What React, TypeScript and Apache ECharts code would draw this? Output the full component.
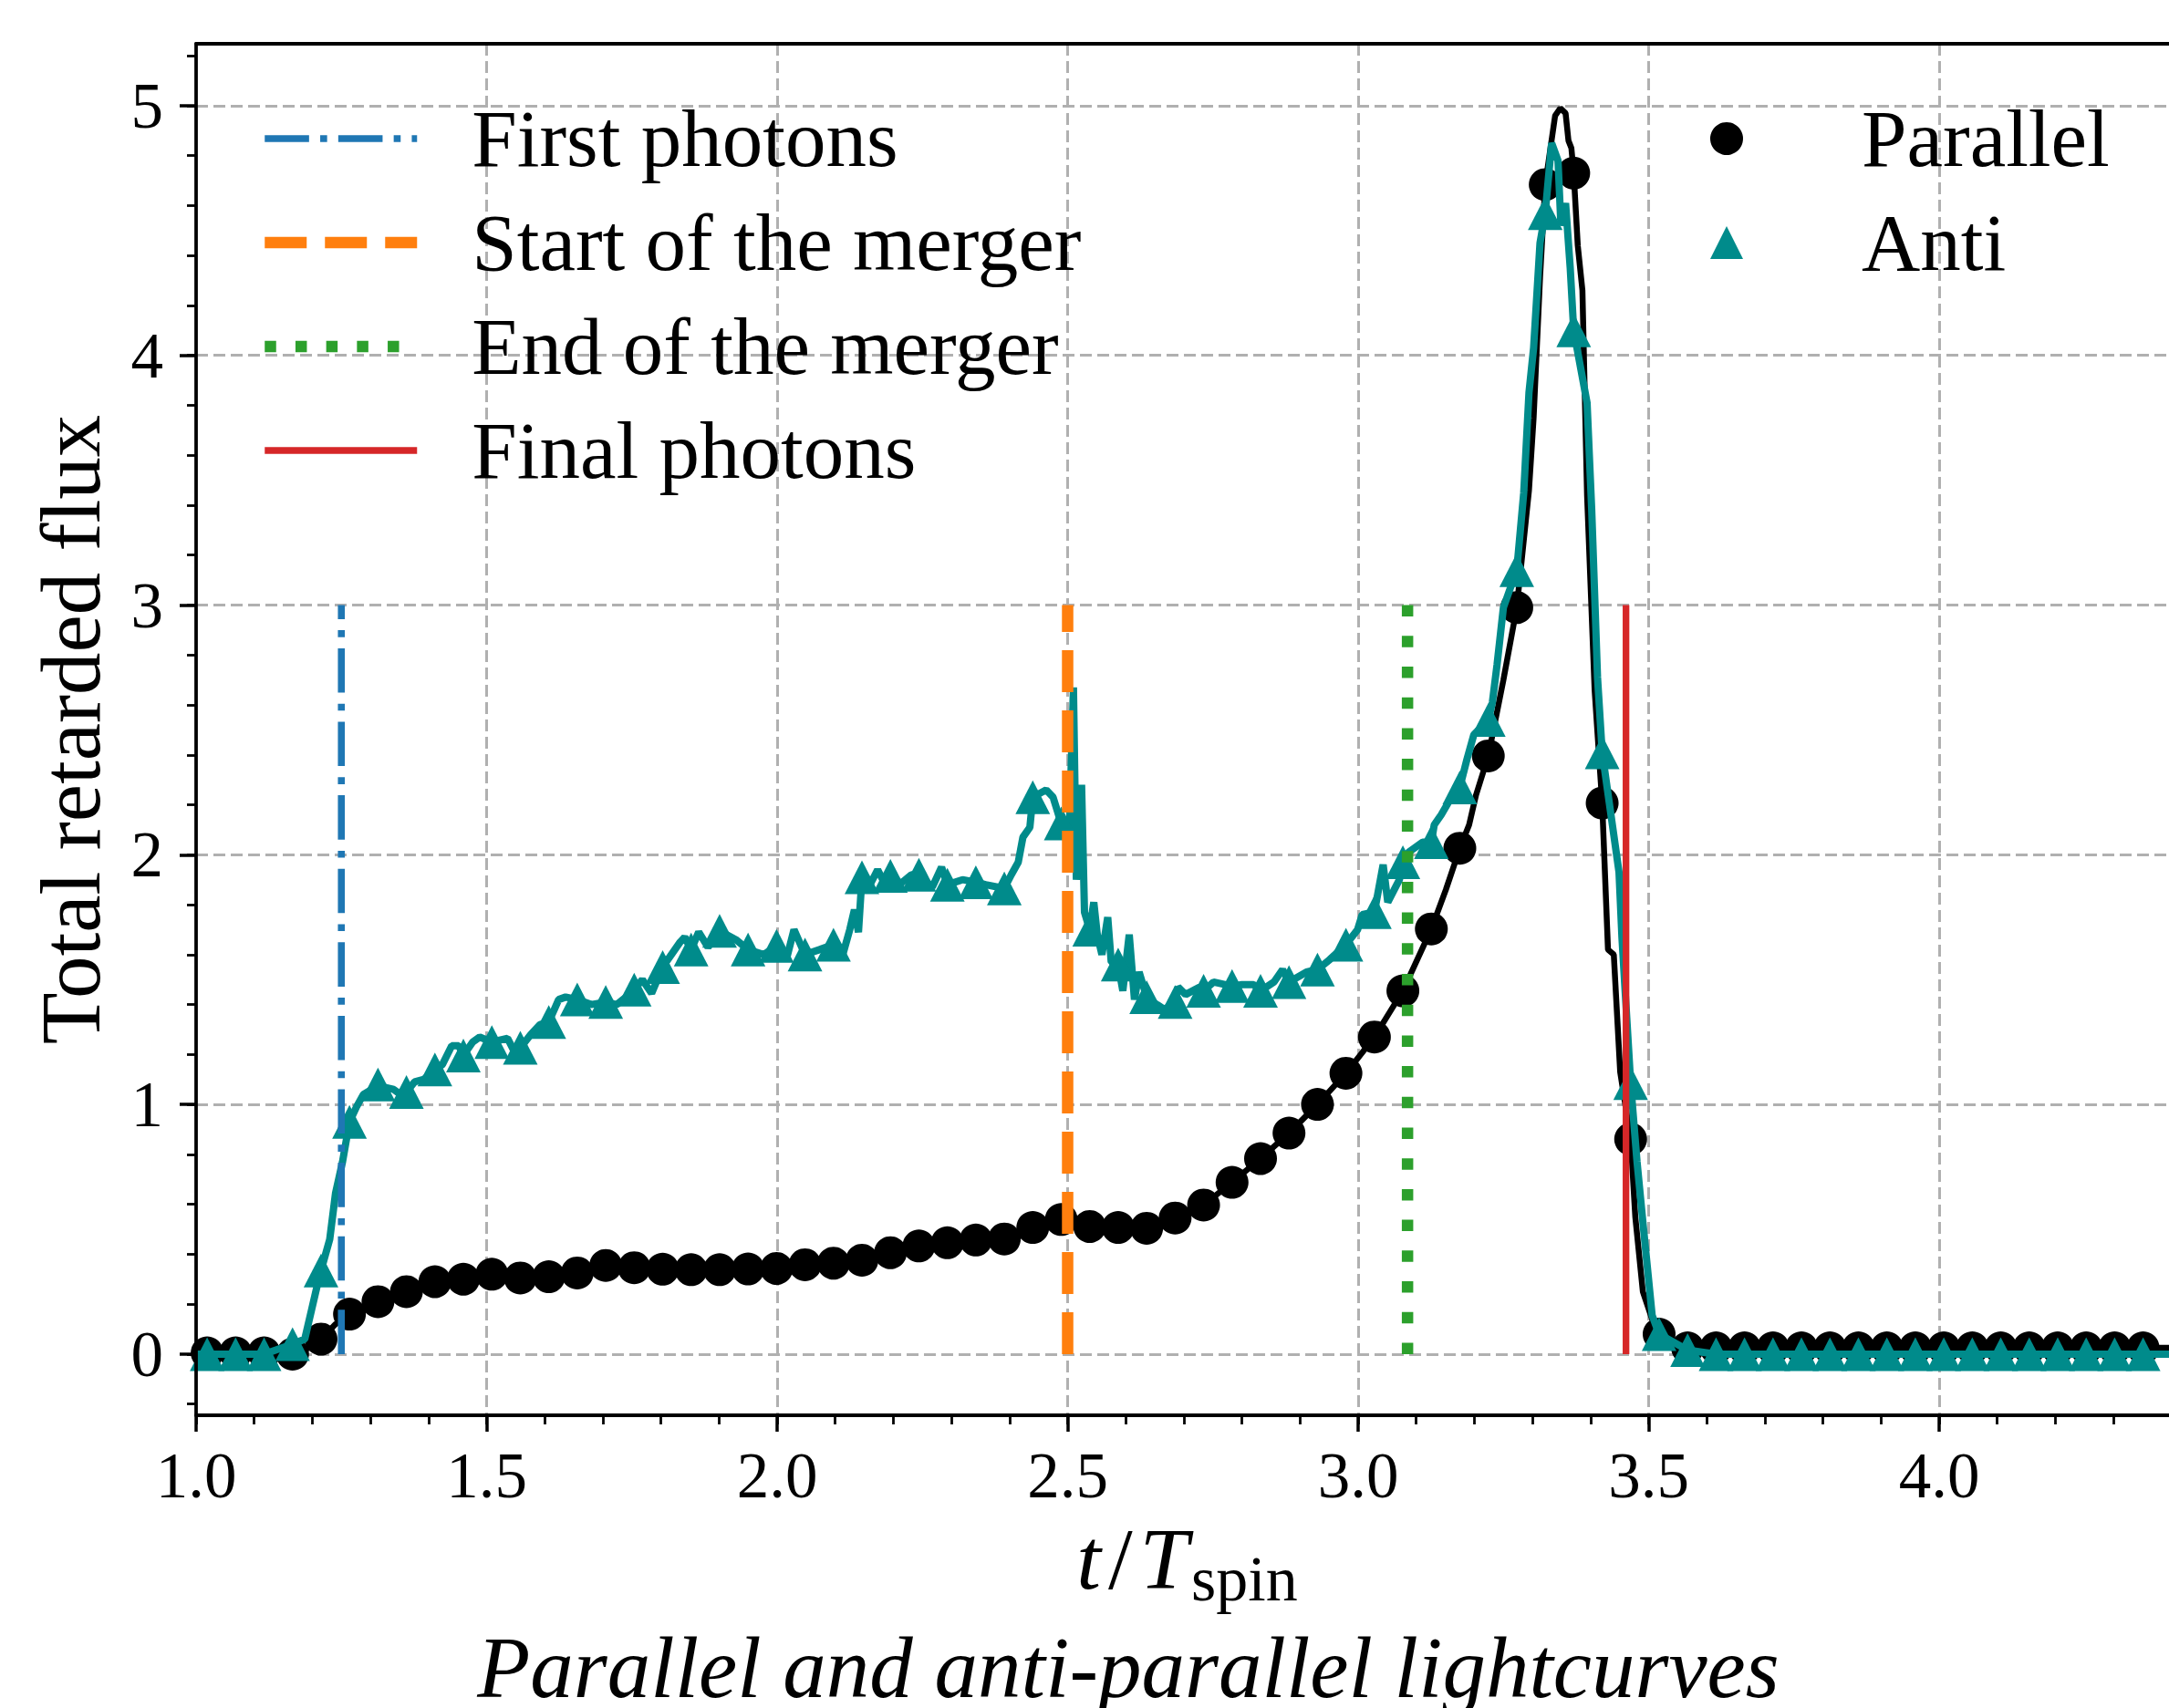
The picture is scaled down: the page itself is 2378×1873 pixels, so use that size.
import React, { useEffect, useRef } from 'react';
import * as echarts from 'echarts';

// ---------------- data ----------------
// marker sample times (t / T_spin)
const markT = [
  1.019, 1.068, 1.117, 1.166, 1.215, 1.264, 1.313, 1.362, 1.411, 1.46,
  1.509, 1.558, 1.607, 1.656, 1.705, 1.754, 1.803, 1.852, 1.901, 1.95,
  1.999, 2.048, 2.097, 2.146, 2.195, 2.244, 2.293, 2.342, 2.391, 2.44,
  2.489, 2.538, 2.587, 2.636, 2.685, 2.734, 2.783, 2.832, 2.881, 2.93,
  2.979, 3.028, 3.077, 3.126, 3.175, 3.224, 3.273, 3.322, 3.371, 3.42,
  3.469, 3.518, 3.567, 3.616, 3.665, 3.714, 3.763, 3.812, 3.861, 3.91,
  3.959, 4.008, 4.057, 4.106, 4.155, 4.204, 4.253, 4.302, 4.351, 4.4,
];
// Parallel markers (circles)
const paraMark = [
  0.005, 0.005, 0.005, 0.0, 0.06, 0.16, 0.21, 0.25, 0.29, 0.3,
  0.32, 0.305, 0.31, 0.325, 0.355, 0.346, 0.34, 0.338, 0.338, 0.341,
  0.343, 0.358, 0.364, 0.376, 0.406, 0.433, 0.446, 0.457, 0.461, 0.507,
  0.539, 0.511, 0.507, 0.504, 0.545, 0.597, 0.688, 0.783, 0.885, 1.0,
  1.125, 1.27, 1.455, 1.703, 2.026, 2.396, 2.99, 4.684, 4.73, 2.207,
  0.861, 0.08, 0.025, 0.025, 0.025, 0.025, 0.025, 0.025, 0.025, 0.025,
  0.025, 0.025, 0.025, 0.025, 0.025, 0.025, 0.025, 0.025, 0.025, 0.025,
];
// Anti markers (triangles)
const antiMark = [
  0.0, 0.0, 0.0, 0.04, 0.335, 0.93, 1.08, 1.05, 1.14, 1.196,
  1.25, 1.227, 1.33, 1.42, 1.41, 1.46, 1.55, 1.62, 1.695, 1.62,
  1.635, 1.6, 1.64, 1.91, 1.915, 1.92, 1.88, 1.89, 1.865, 2.23,
  2.125, 1.7, 1.56, 1.43, 1.41, 1.455, 1.474, 1.455, 1.49, 1.54,
  1.64, 1.77, 1.97, 2.05, 2.27, 2.54, 3.14, 4.57, 4.1, 2.41,
  1.085, 0.08, 0.016, 0.0, 0.0, 0.0, 0.0, 0.0, 0.0, 0.0,
  0.0, 0.0, 0.0, 0.0, 0.0, 0.0, 0.0, 0.0, 0.0, 0.0,
];
// Parallel full curve
const paraLineT = [
  1.0, 1.019, 1.068, 1.117, 1.166, 1.19, 1.215, 1.24, 1.264, 1.313,
  1.362, 1.411, 1.46, 1.509, 1.558, 1.607, 1.656, 1.705, 1.754, 1.803,
  1.852, 1.901, 1.95, 1.999, 2.048, 2.097, 2.146, 2.195, 2.244, 2.293,
  2.342, 2.391, 2.44, 2.489, 2.538, 2.587, 2.636, 2.685, 2.734, 2.783,
  2.832, 2.881, 2.93, 2.979, 3.028, 3.077, 3.126, 3.151, 3.175, 3.191,
  3.203, 3.224, 3.25, 3.273, 3.294, 3.302, 3.313, 3.322, 3.339, 3.348,
  3.357, 3.362, 3.367, 3.371, 3.378, 3.386, 3.394, 3.407, 3.42, 3.43,
  3.44, 3.451, 3.469, 3.477, 3.49, 3.506, 3.518, 3.54, 3.567, 4.4,
];
const paraLineF = [
  0.005, 0.005, 0.005, 0.005, 0.0, 0.02, 0.06, 0.12, 0.16, 0.21,
  0.25, 0.29, 0.3, 0.32, 0.305, 0.31, 0.325, 0.355, 0.346, 0.34,
  0.338, 0.338, 0.341, 0.343, 0.358, 0.364, 0.376, 0.406, 0.433, 0.446,
  0.457, 0.461, 0.507, 0.539, 0.511, 0.507, 0.504, 0.545, 0.597, 0.688,
  0.783, 0.885, 1.0, 1.125, 1.27, 1.455, 1.703, 1.86, 2.026, 2.12,
  2.24, 2.396, 2.7, 2.99, 3.46, 3.75, 4.31, 4.684, 4.96, 4.99,
  4.97, 4.86, 4.83, 4.73, 4.44, 4.26, 3.44, 2.66, 2.207, 1.62,
  1.6, 1.13, 0.861, 0.55, 0.25, 0.14, 0.08, 0.035, 0.025, 0.025,
];
// Anti-parallel full curve
const antiLineT = [
  1.0, 1.019, 1.068, 1.117, 1.166, 1.187, 1.199, 1.211, 1.215, 1.23,
  1.24, 1.252, 1.264, 1.276, 1.288, 1.313, 1.34, 1.352, 1.362, 1.376,
  1.392, 1.411, 1.424, 1.44, 1.452, 1.46, 1.476, 1.488, 1.509, 1.536,
  1.548, 1.558, 1.576, 1.592, 1.607, 1.624, 1.636, 1.656, 1.68, 1.705,
  1.724, 1.74, 1.754, 1.768, 1.784, 1.803, 1.833, 1.841, 1.852, 1.865,
  1.881, 1.901, 1.929, 1.95, 1.977, 1.999, 2.017, 2.029, 2.048, 2.073,
  2.097, 2.113, 2.125, 2.133, 2.14, 2.146, 2.161, 2.173, 2.185, 2.195,
  2.213, 2.231, 2.244, 2.267, 2.283, 2.293, 2.319, 2.342, 2.359, 2.391,
  2.403, 2.415, 2.423, 2.435, 2.44, 2.463, 2.475, 2.489, 2.495, 2.503,
  2.51, 2.515, 2.524, 2.529, 2.538, 2.545, 2.551, 2.559, 2.569, 2.575,
  2.587, 2.595, 2.606, 2.615, 2.623, 2.636, 2.647, 2.667, 2.685, 2.69,
  2.703, 2.727, 2.734, 2.751, 2.783, 2.8, 2.82, 2.832, 2.855, 2.87,
  2.881, 2.911, 2.93, 2.951, 2.979, 2.999, 3.007, 3.028, 3.043, 3.051,
  3.071, 3.077, 3.087, 3.111, 3.126, 3.131, 3.143, 3.163, 3.175, 3.187,
  3.199, 3.224, 3.231, 3.239, 3.25, 3.273, 3.285, 3.294, 3.302, 3.313,
  3.322, 3.333, 3.344, 3.349, 3.357, 3.365, 3.371, 3.394, 3.402, 3.412,
  3.42, 3.449, 3.454, 3.469, 3.48, 3.49, 3.506, 3.518, 3.567, 3.616,
  4.4,
];
const antiLineF = [
  0.0, 0.0, 0.0, 0.0, 0.04, 0.06, 0.18, 0.3, 0.335, 0.46,
  0.645, 0.77, 0.93, 0.99, 1.04, 1.075, 1.06, 1.04, 1.05, 1.09,
  1.1, 1.14, 1.16, 1.235, 1.235, 1.196, 1.25, 1.27, 1.25, 1.265,
  1.21, 1.227, 1.28, 1.32, 1.33, 1.42, 1.43, 1.42, 1.4, 1.41,
  1.4, 1.43, 1.46, 1.5, 1.445, 1.55, 1.65, 1.67, 1.62, 1.69,
  1.63, 1.695, 1.66, 1.62, 1.6, 1.635, 1.59, 1.7, 1.6, 1.62,
  1.64, 1.6, 1.7, 1.78, 1.69, 1.91, 1.885, 1.94, 1.885, 1.915,
  1.885, 1.92, 1.92, 1.87, 1.95, 1.88, 1.9, 1.89, 1.88, 1.865,
  1.92, 1.97, 2.07, 2.11, 2.23, 2.26, 2.23, 2.125, 2.14, 2.1,
  2.67, 1.9, 2.28, 1.77, 1.7, 1.81, 1.68, 1.6, 1.75, 1.57,
  1.56, 1.455, 1.68, 1.42, 1.53, 1.43, 1.41, 1.38, 1.41, 1.47,
  1.44, 1.47, 1.455, 1.49, 1.474, 1.48, 1.48, 1.455, 1.49, 1.54,
  1.49, 1.53, 1.54, 1.58, 1.64, 1.7, 1.76, 1.77, 1.96, 1.81,
  1.9, 1.97, 2.01, 2.05, 2.05, 2.12, 2.16, 2.24, 2.27, 2.38,
  2.48, 2.54, 2.61, 2.76, 2.99, 3.14, 3.45, 3.85, 4.03, 4.45,
  4.57, 4.85, 4.78, 4.52, 4.61, 4.35, 4.1, 3.81, 3.38, 2.71,
  2.41, 1.93, 1.67, 1.085, 0.77, 0.53, 0.155, 0.08, 0.016, 0.0,
  0.0,
];
// vertical event markers
const eventNames = ['First photons', 'Start of the merger', 'End of the merger', 'Final photons'];
const eventT = [1.25, 2.5, 3.085, 3.461];
const eventSpan = [0, 3];
// tick labels
const xTickLabels = ['1.0', '1.5', '2.0', '2.5', '3.0', '3.5', '4.0'];
const yTickLabels = ['0', '1', '2', '3', '4', '5'];

// ---------------- layout ----------------
const X_MIN = 1.0;
const X_MAX = 4.3987;
const Y_MIN = -0.245;
const Y_MAX = 5.248;
const G = { left: 215, top: 48, width: 2165, height: 1504 };
const BOTTOM = G.top + G.height;
const px = (v: number) => G.left + ((v - X_MIN) / (X_MAX - X_MIN)) * G.width;
const py = (v: number) => G.top + ((Y_MAX - v) / (Y_MAX - Y_MIN)) * G.height;
const FONT = '"Liberation Serif", "Times New Roman", serif';

const eventStyles = [
  { color: '#1f77b4', width: 7.6, type: [48.6, 12.2, 7.6, 12.2] },
  { color: '#ff7f0e', width: 12.5, type: [46, 20] },
  { color: '#2ca02c', width: 12.5, type: [12.5, 21.2] },
  { color: '#d62728', width: 7.3, type: 'solid' },
];

const pairs = (xs: number[], ys: number[]) => xs.map((x, i) => [x, ys[i]]);

const gridLine = { color: '#b0b0b0', width: 3, type: [13, 6] };

function buildOption(): any {
  const eventSeries = eventNames.map((name, i) => ({
    type: 'line',
    name,
    xAxisIndex: 0,
    yAxisIndex: 0,
    data: eventSpan.map((y) => [eventT[i], y]),
    symbol: 'none',
    showSymbol: false,
    silent: true,
    lineStyle: { ...eventStyles[i], cap: 'butt' },
    z: 6,
  }));

  return {
    animation: false,
    backgroundColor: '#ffffff',
    textStyle: { fontFamily: FONT },
    grid: [
      { left: G.left, top: G.top, width: G.width, height: G.height },
      { left: px(1), top: py(5), width: px(4) - px(1), height: py(0) - py(5) },
      { left: px(1), top: py(5.2), width: px(4.3) - px(1), height: py(-0.2) - py(5.2) },
      { left: G.left, top: G.top, width: G.width, height: G.height },
    ],
    xAxis: [
      {
        gridIndex: 0, type: 'value', min: X_MIN, max: X_MAX, interval: 0.5,
        axisLine: { show: false, onZero: false }, axisTick: { show: false }, axisLabel: { show: false },
        splitLine: { show: true, showMinLine: false, showMaxLine: false, lineStyle: gridLine },
      },
      {
        gridIndex: 1, type: 'value', min: 1, max: 4, interval: 0.5, position: 'bottom',
        offset: BOTTOM - py(0),
        axisLine: { show: false, onZero: false },
        axisTick: { show: true, length: 18, lineStyle: { color: '#000', width: 3.5 } },
        axisLabel: {
          show: true, margin: 30, fontSize: 71, fontFamily: FONT, color: '#000',
          formatter: (v: number) => xTickLabels[Math.round((v - 1) / 0.5)] ?? '',
        },
        splitLine: { show: false },
      },
      {
        gridIndex: 2, type: 'value', min: 1, max: 4.3, interval: 0.1, position: 'bottom',
        offset: BOTTOM - py(-0.2),
        axisLine: { show: false, onZero: false },
        axisTick: { show: true, length: 10, lineStyle: { color: '#000', width: 2.8 } },
        axisLabel: { show: false }, splitLine: { show: false },
      },
      {
        gridIndex: 3, type: 'value', min: 0, max: 1, position: 'bottom', z: 10,
        axisLine: { show: true, onZero: false, lineStyle: { color: '#000', width: 3.8 } },
        axisTick: { show: false }, axisLabel: { show: false }, splitLine: { show: false },
      },
      {
        gridIndex: 3, type: 'value', min: 0, max: 1, position: 'top', z: 10,
        axisLine: { show: true, onZero: false, lineStyle: { color: '#000', width: 3.8 } },
        axisTick: { show: false }, axisLabel: { show: false }, splitLine: { show: false },
      },
    ],
    yAxis: [
      {
        gridIndex: 0, type: 'value', min: Y_MIN, max: Y_MAX, minInterval: 1, maxInterval: 1,
        axisLine: { show: false, onZero: false }, axisTick: { show: false }, axisLabel: { show: false },
        splitLine: { show: true, showMinLine: false, showMaxLine: false, lineStyle: gridLine },
      },
      {
        gridIndex: 1, type: 'value', min: 0, max: 5, interval: 1, position: 'left',
        axisLine: { show: false, onZero: false },
        axisTick: { show: true, length: 18, lineStyle: { color: '#000', width: 3.5 } },
        axisLabel: {
          show: true, margin: 36, fontSize: 71, fontFamily: FONT, color: '#000',
          formatter: (v: number) => yTickLabels[Math.round(v)] ?? '',
        },
        splitLine: { show: false },
      },
      {
        gridIndex: 2, type: 'value', min: -0.2, max: 5.2, interval: 0.2, position: 'left',
        axisLine: { show: false, onZero: false },
        axisTick: { show: true, length: 10, lineStyle: { color: '#000', width: 2.8 } },
        axisLabel: { show: false }, splitLine: { show: false },
      },
      {
        gridIndex: 3, type: 'value', min: 0, max: 1, position: 'left', z: 10,
        axisLine: { show: true, onZero: false, lineStyle: { color: '#000', width: 3.8 } },
        axisTick: { show: false }, axisLabel: { show: false }, splitLine: { show: false },
      },
    ],
    legend: [
      {
        left: 284, top: 95, orient: 'vertical', padding: 0, itemGap: 0,
        itemWidth: 167, itemHeight: 14, selectedMode: false,
        data: eventNames.map((name, i) => ({
          name,
          itemStyle: { opacity: 0, borderWidth: 0 },
          lineStyle: { color: eventStyles[i].color, width: eventStyles[i].width, type: eventStyles[i].type, cap: 'butt', opacity: 1 },
        })),
        textStyle: { fontSize: 89, fontFamily: FONT, color: '#000', lineHeight: 114, padding: [0, 0, 0, 55] },
      },
      {
        left: 1875, top: 95, orient: 'vertical', padding: 0, itemGap: 0,
        itemWidth: 36, itemHeight: 36, selectedMode: false,
        data: [
          { name: 'Parallel', icon: 'circle', itemStyle: { color: '#000', opacity: 1 } },
          { name: 'Anti', icon: 'triangle', itemStyle: { color: '#008b8b', opacity: 1 } },
        ],
        textStyle: { fontSize: 89, fontFamily: FONT, color: '#000', lineHeight: 114, padding: [0, 0, 0, 125] },
      },
    ],
    series: [
      {
        type: 'line', name: 'parallel-curve', xAxisIndex: 0, yAxisIndex: 0,
        data: pairs(paraLineT, paraLineF), symbol: 'none', showSymbol: false, silent: true,
        lineStyle: { color: '#000000', width: 6.5 }, z: 2,
      },
      {
        type: 'scatter', name: 'Parallel', xAxisIndex: 0, yAxisIndex: 0,
        data: pairs(markT, paraMark), symbol: 'circle', symbolSize: 36, silent: true,
        itemStyle: { color: '#000000', opacity: 1 }, z: 3,
      },
      {
        type: 'line', name: 'anti-curve', xAxisIndex: 0, yAxisIndex: 0,
        data: pairs(antiLineT, antiLineF), symbol: 'none', showSymbol: false, silent: true,
        lineStyle: { color: '#008b8b', width: 8 }, z: 4,
      },
      {
        type: 'scatter', name: 'Anti', xAxisIndex: 0, yAxisIndex: 0,
        data: pairs(markT, antiMark), symbol: 'triangle', symbolSize: [38, 37], silent: true,
        itemStyle: { color: '#008b8b', opacity: 1 }, z: 5,
      },
      ...eventSeries,
    ],
    graphic: [
      {
        type: 'text', x: 77, y: 800, rotation: Math.PI / 2,
        style: {
          text: 'Total retarded flux', fontSize: 93, fontFamily: FONT, fill: '#000',
          align: 'center', verticalAlign: 'middle',
        },
      },
      {
        type: 'text', x: 1303, y: 1709,
        style: {
          text: '{i|t}{r|/}{i|T}', fill: '#000', align: 'right', verticalAlign: 'middle',
          fontSize: 96, fontFamily: FONT,
          rich: {
            i: { fontStyle: 'italic', fontSize: 96, fontFamily: FONT, fill: '#000' },
            r: { fontSize: 96, fontFamily: FONT, fill: '#000', padding: [0, 8, 0, 8] },
          },
        },
      },
      {
        type: 'text', x: 1306, y: 1731,
        style: {
          text: 'spin', fontSize: 70, fontFamily: FONT, fill: '#000',
          align: 'left', verticalAlign: 'middle',
        },
      },
      {
        type: 'text', x: 1237, y: 1829,
        style: {
          text: 'Parallel and anti-parallel lightcurves', fontStyle: 'italic', fontSize: 95,
          fontFamily: FONT, fill: '#000', align: 'center', verticalAlign: 'middle',
        },
      },
    ],
  };
}

export default function App() {
  const ref = useRef<HTMLDivElement>(null);
  useEffect(() => {
    if (!ref.current) return;
    const chart = echarts.init(ref.current, undefined, { renderer: 'svg' });
    chart.setOption(buildOption());
    return () => chart.dispose();
  }, []);
  return (
    <div
      style={{
        position: 'absolute', left: 0, top: 0, width: 2378, height: 1873,
        overflow: 'hidden', background: '#fff',
      }}
    >
      <div ref={ref} style={{ width: 2400, height: 1873 }} />
    </div>
  );
}
